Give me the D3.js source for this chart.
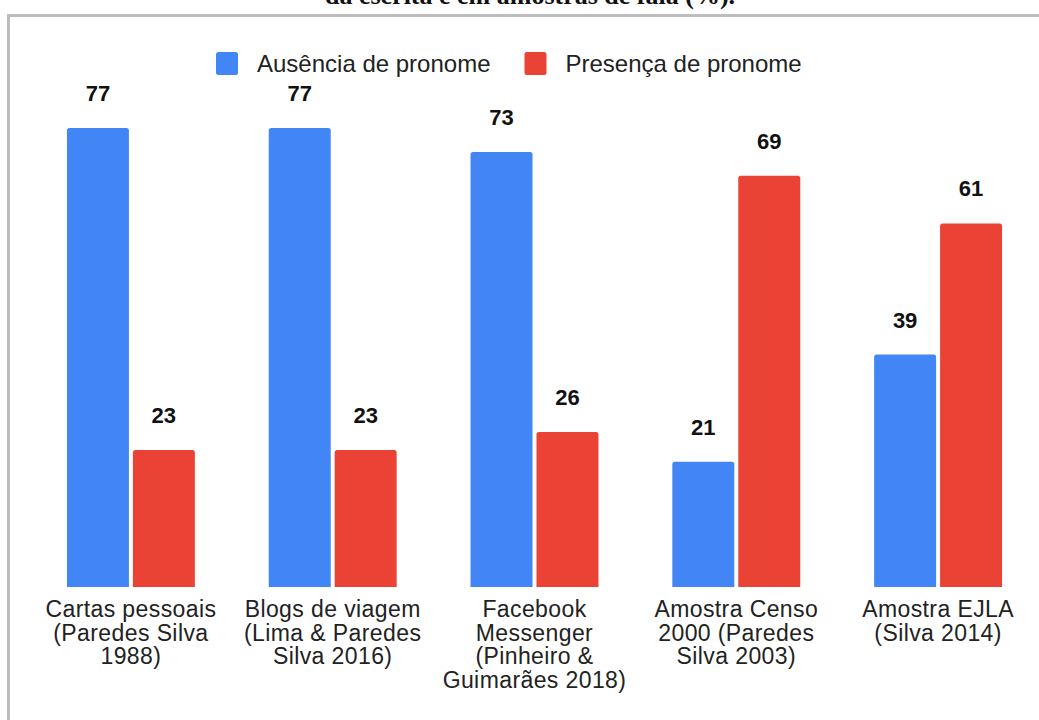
<!DOCTYPE html>
<html>
<head>
<meta charset="utf-8">
<script src="https://cdn.jsdelivr.net/npm/d3@7"></script>
<style>
  html, body { margin: 0; padding: 0; background: #fff; }
  svg { display: block; font-family: 'Liberation Sans', Arial, sans-serif; }
</style>
</head>
<body>
<svg id="chart" width="1039" height="720"></svg>
<script>
// data
const categories = [
  ['Cartas pessoais', '(Paredes Silva', '1988)'],
  ['Blogs de viagem', '(Lima & Paredes', 'Silva 2016)'],
  ['Facebook', 'Messenger', '(Pinheiro &', 'Guimarães 2018)'],
  ['Amostra Censo', '2000 (Paredes', 'Silva 2003)'],
  ['Amostra EJLA', '(Silva 2014)']
]
const seriesNames = ['Ausência de pronome', 'Presença de pronome']
const ausencia = [77, 77, 73, 21, 39]
const presenca = [23, 23, 26, 69, 61]
const titleText = 'da escrita e em amostras de fala (%).'

const colors = ['#4285f4', '#ea4335']

const svg = d3.select('#chart')

// frame around the chart (cut off at right / bottom like the scan)
svg.append('rect')
  .attr('x', 8.5).attr('y', 15.5)
  .attr('width', 1100).attr('height', 800)
  .attr('fill', 'none')
  .attr('stroke', '#bdbdbd')
  .attr('stroke-width', 3)

// title, mostly above the visible area
svg.append('text')
  .attr('x', 530).attr('y', 4)
  .attr('text-anchor', 'middle')
  .style('font-family', "'Liberation Serif', 'Times New Roman', serif")
  .style('font-weight', 'bold')
  .style('font-size', '26px')
  .attr('fill', '#111')
  .text(titleText)

const rows = categories.map((c, i) => ({ i, values: [ausencia[i], presenca[i]] }))

const x0 = d3.scaleBand()
  .domain(d3.range(categories.length))
  .range([30, 1039])
  .paddingInner(0.366)
  .paddingOuter(0.183)

const x1 = d3.scaleBand()
  .domain(d3.range(seriesNames.length))
  .range([0, x0.bandwidth()])
  .paddingInner(0.06)

const y = d3.scaleLinear()
  .domain([0, 80])
  .range([587, 110.2])

const groups = svg.append('g').selectAll('g')
  .data(rows)
  .join('g')
  .attr('transform', d => `translate(${x0(d.i)},0)`)

// bars, top corners slightly rounded
const r = 2.5
groups.selectAll('path')
  .data(d => d.values.map((v, k) => ({ v, k })))
  .join('path')
  .attr('fill', d => colors[d.k])
  .attr('d', d => {
    const bx = x1(d.k), bw = x1.bandwidth()
    const top = y(d.v), bot = y(0)
    return `M${bx},${bot}V${top + r}Q${bx},${top} ${bx + r},${top}H${bx + bw - r}Q${bx + bw},${top} ${bx + bw},${top + r}V${bot}Z`
  })

groups.selectAll('text.val')
  .data(d => d.values.map((v, k) => ({ v, k })))
  .join('text')
  .attr('class', 'val')
  .attr('x', d => x1(d.k) + x1.bandwidth() / 2)
  .attr('y', d => y(d.v) - 27)
  .attr('text-anchor', 'middle')
  .style('font-size', '22px')
  .style('font-weight', 'bold')
  .attr('fill', '#111')
  .text(d => d.v)

// category labels
const xAxis = svg.append('g')
xAxis.selectAll('text')
  .data(rows)
  .join('text')
  .attr('x', d => x0(d.i) + x0.bandwidth() / 2)
  .attr('y', 617)
  .attr('text-anchor', 'middle')
  .style('font-size', '23px')
  .style('letter-spacing', '0.4px')
  .attr('fill', '#222')
  .selectAll('tspan')
  .data(d => categories[d.i])
  .join('tspan')
  .attr('x', function () { return this.parentNode.getAttribute('x') })
  .attr('dy', (d, k) => k === 0 ? 0 : 23.5)
  .text(d => d)

// legend
const legend = svg.append('g').attr('transform', 'translate(216,52)')
let lx = 0
seriesNames.forEach((name, k) => {
  const item = legend.append('g').attr('transform', `translate(${lx},0)`)
  item.append('rect')
    .attr('width', 22).attr('height', 23)
    .attr('rx', 2.5)
    .attr('fill', colors[k])
  const t = item.append('text')
    .attr('x', 41).attr('y', 19.5)
    .style('font-size', '24px')
    .attr('fill', '#222')
    .text(name)
  lx += 41 + t.node().getComputedTextLength() + 34
})
</script>
</body>
</html>
